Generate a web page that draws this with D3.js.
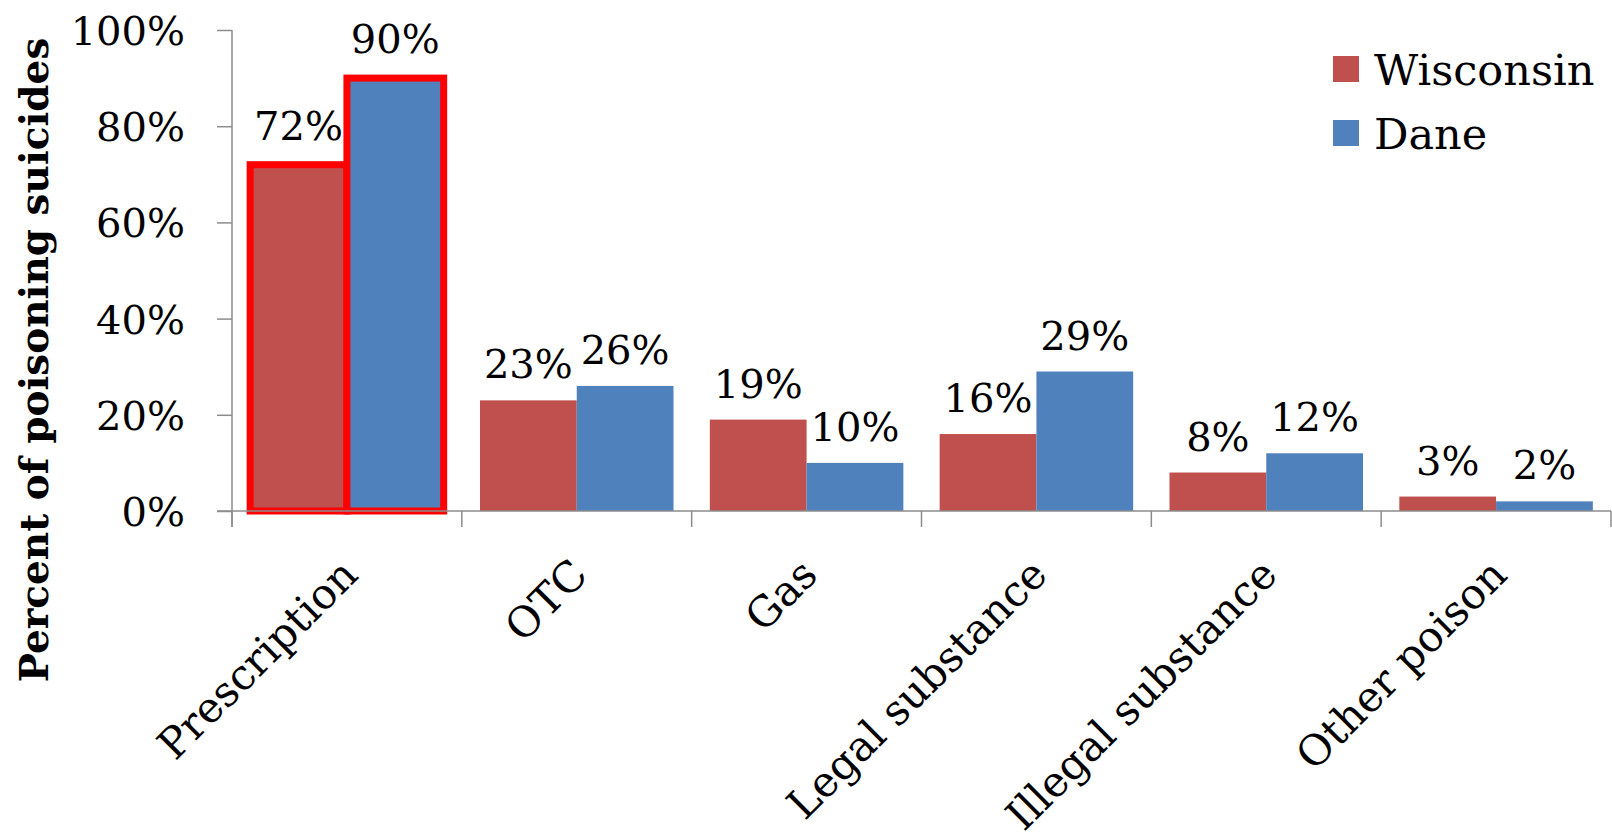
<!DOCTYPE html>
<html>
<head>
<meta charset="utf-8">
<script src="https://cdn.jsdelivr.net/npm/d3@7"></script>
<style>
  body { margin: 0; background: #fff; }
  text { font-family: "DejaVu Serif", serif; fill: #000; }
</style>
</head>
<body>
<div id="chart"></div>
<script>
// data
var categories = ["Prescription", "OTC", "Gas", "Legal substance", "Illegal substance", "Other poison"];
var seriesNames = ["Wisconsin", "Dane"];
var wisconsin = [72, 23, 19, 16, 8, 3];
var dane = [90, 26, 10, 29, 12, 2];
var yTicks = [0, 20, 40, 60, 80, 100];
var highlighted = ["Prescription"];

var colors = { "Wisconsin": "#C0504D", "Dane": "#4F81BD" };

//svg frame
var svgWidth = 1612;
var svgHeight = 839;

var svg = d3.select("#chart")
  .append("svg")
  .attr("width", svgWidth)
  .attr("height", svgHeight);

// plot area (not "top": that name is taken by window.top)
var plotLeft = 232, plotRight = 1611, plotTop = 30, plotBottom = 511;

var xScale = d3.scaleBand()
  .domain(categories)
  .range([plotLeft, plotRight])
  .padding(0);

var gap = xScale.bandwidth() * 0.079;
var xInner = d3.scaleBand()
  .domain(seriesNames)
  .range([gap, xScale.bandwidth() - gap]);

var yScale = d3.scaleLinear()
  .domain([0, 100])
  .range([plotBottom, plotTop]);

// build rows from arrays
var rows = [];
categories.forEach(function(c, i) {
  rows.push({ cat: c, series: "Wisconsin", value: wisconsin[i] });
  rows.push({ cat: c, series: "Dane", value: dane[i] });
});

// bars
svg.append("g").selectAll("rect")
  .data(rows)
  .enter()
  .append("rect")
  .attr("x", d => xScale(d.cat) + xInner(d.series))
  .attr("y", d => yScale(d.value))
  .attr("width", xInner.bandwidth())
  .attr("height", d => plotBottom - yScale(d.value))
  .attr("fill", d => colors[d.series])
  .attr("stroke", d => highlighted.includes(d.cat) ? "#FF0000" : "none")
  .attr("stroke-width", 7);

// y axis
var leftAxis = d3.axisLeft(yScale)
  .tickValues(yTicks)
  .tickSize(15)
  .tickPadding(47)
  .tickFormat(d => d + "%");

var yAxisG = svg.append("g")
  .attr("transform", `translate(${plotLeft}, 0)`)
  .call(leftAxis);
yAxisG.select(".domain").remove();
yAxisG.selectAll("line").attr("stroke", "#8c8c8c").attr("stroke-width", 1.5);
yAxisG.selectAll("text")
  .style("font-size", "40px")
  .style("font-family", "DejaVu Serif")
  .attr("x", -47)
  .attr("dy", "0.36em");

// y axis line (runs down to the category tick length)
svg.append("line")
  .attr("x1", plotLeft).attr("x2", plotLeft)
  .attr("y1", plotTop).attr("y2", plotBottom + 16)
  .attr("stroke", "#8c8c8c").attr("stroke-width", 1.5);

// x axis baseline + category ticks
svg.append("line")
  .attr("x1", plotLeft - 15).attr("x2", plotRight)
  .attr("y1", plotBottom).attr("y2", plotBottom)
  .attr("stroke", "#8c8c8c").attr("stroke-width", 1.5);

var edges = categories.map(c => xScale(c)).concat([plotRight]);
svg.append("g").selectAll("line")
  .data(edges)
  .enter()
  .append("line")
  .attr("x1", d => d).attr("x2", d => d)
  .attr("y1", plotBottom).attr("y2", plotBottom + 16)
  .attr("stroke", "#8c8c8c").attr("stroke-width", 1.5);

// category labels rotated
svg.append("g").selectAll("text")
  .data(categories)
  .enter()
  .append("text")
  .attr("transform", d => `translate(${xScale(d) + xScale.bandwidth() / 2 + 13}, ${plotBottom + 66}) rotate(-45)`)
  .style("font-size", "42px")
  .style("text-anchor", "end")
  .text(d => d);

// data labels
svg.append("g").selectAll("text")
  .data(rows)
  .enter()
  .append("text")
  .attr("x", d => xScale(d.cat) + xInner(d.series) + xInner.bandwidth() / 2)
  .attr("y", d => yScale(d.value) - (highlighted.includes(d.cat) ? 25 : 22))
  .style("font-size", "40px")
  .style("text-anchor", "middle")
  .text(d => d.value + "%");

// y axis title
svg.append("text")
  .attr("transform", `translate(48, 360) rotate(-90)`)
  .style("font-size", "39px")
  .style("font-weight", "bold")
  .style("text-anchor", "middle")
  .text("Percent of poisoning suicides");

// legend
var legend = svg.append("g").selectAll("g")
  .data(seriesNames)
  .enter()
  .append("g")
  .attr("transform", (d, i) => `translate(1333, ${56 + i * 64})`);

legend.append("rect")
  .attr("width", 26)
  .attr("height", 26)
  .attr("fill", d => colors[d]);

legend.append("text")
  .attr("x", 41)
  .attr("y", 29)
  .style("font-size", "43px")
  .text(d => d);
</script>
</body>
</html>
